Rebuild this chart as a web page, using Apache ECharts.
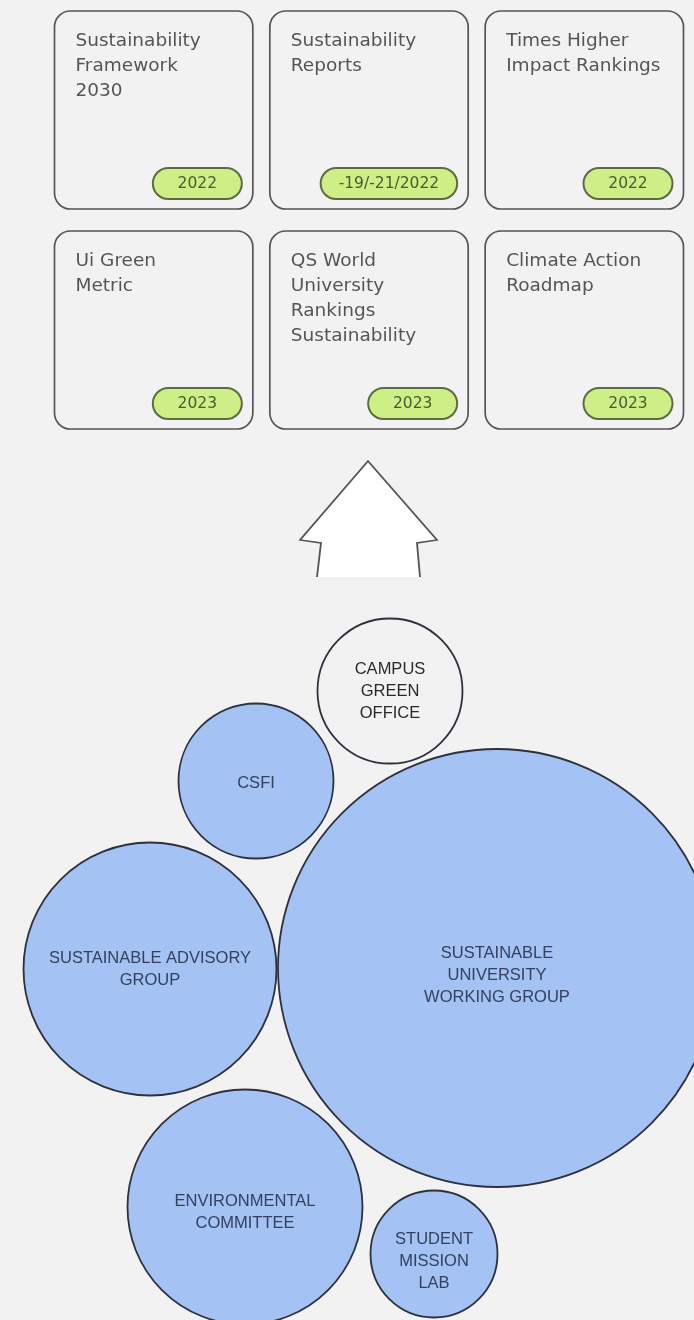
<!DOCTYPE html>
<html>
<head>
<meta charset="utf-8">
<title>Sustainability governance</title>
<script src="https://cdn.jsdelivr.net/npm/echarts@6.0.0/dist/echarts.min.js"></script>
<style>
  html, body { margin: 0; padding: 0; background: #f2f2f2; }
  #main { width: 694px; height: 1320px; }
</style>
</head>
<body>
<div id="main"></div>
<script>
// cards (top part): title, year badge, column / row of the grid
const cardTitles = [
  'Sustainability\nFramework\n2030',
  'Sustainability\nReports',
  'Times Higher\nImpact Rankings',
  'Ui Green\nMetric',
  'QS World\nUniversity\nRankings\nSustainability',
  'Climate Action\nRoadmap'
];
const cardYears = ['2022', '-19/-21/2022', '2022', '2023', '2023', '2023'];
const cardCols = [0, 1, 2, 0, 1, 2];
const cardRows = [0, 0, 0, 1, 1, 1];

// bubbles (bottom part), positions/diameters
const groupNames = [
  'CAMPUS\nGREEN\nOFFICE',
  'CSFI',
  'SUSTAINABLE ADVISORY\nGROUP',
  'SUSTAINABLE\nUNIVERSITY\nWORKING GROUP',
  'ENVIRONMENTAL\nCOMMITTEE',
  'STUDENT\nMISSION\nLAB'
];
const groupX = [390, 256, 150, 497, 245, 434];
const groupY = [691, 781, 969, 968, 1207, 1254];
const groupSize = [145, 155, 253, 438, 235, 127];

// the arrow between both parts
const arrowX = [368.5];
const arrowY = [519];

// small vertical nudges of the bubble labels (style only)
const labelShift = [0, 2, 0, 7, 5, 7];

const titleFont = '18.5px "DejaVu Sans", sans-serif';
const pillFont = '15.5px "DejaVu Sans", sans-serif';

const ctx = document.createElement('canvas').getContext('2d');
function textWidth(txt, font) {
  ctx.font = font;
  return ctx.measureText(txt).width;
}

function renderCard(params, api) {
  const i = params.dataIndex;
  const c = api.coord([api.value(0), api.value(1)]);
  const band = api.size([1, 1]);
  const w = band[0] - 17;
  const h = band[1] - 22;
  const x0 = c[0] - w / 2;
  const y0 = c[1] - h / 2;
  const year = cardYears[i];
  const pw = Math.max(89, textWidth(year, pillFont) + 36);
  const ph = 31;
  const px = x0 + w - 11 - pw;
  const py = y0 + h - 10 - ph;
  return {
    type: 'group',
    children: [
      {
        type: 'rect',
        shape: { x: x0, y: y0, width: w, height: h, r: 16 },
        style: { fill: '#f2f2f2', stroke: '#555', lineWidth: 1.7 }
      },
      {
        type: 'text',
        x: x0 + 21,
        y: y0 + 18,
        style: {
          text: cardTitles[i], fill: '#555', font: titleFont,
          lineHeight: 25, align: 'left', verticalAlign: 'top'
        }
      },
      {
        type: 'rect',
        shape: { x: px, y: py, width: pw, height: ph, r: ph / 2 },
        style: { fill: '#cdef86', stroke: '#5c6b44', lineWidth: 2 }
      },
      {
        type: 'text',
        x: px + pw / 2,
        y: py + ph / 2,
        style: {
          text: year, fill: '#4b5a33', font: pillFont,
          align: 'center', verticalAlign: 'middle'
        }
      }
    ]
  };
}

const chart = echarts.init(document.getElementById('main'));

const option = {
  backgroundColor: '#f2f2f2',
  animation: false,
  grid: [
    { left: 46, top: 0, width: 646, height: 440 },
    { left: 0, top: 0, right: 0, bottom: 0 }
  ],
  xAxis: [
    { type: 'category', gridIndex: 0, data: ['c1', 'c2', 'c3'], show: false },
    { type: 'value', gridIndex: 1, min: 0, max: 694, show: false }
  ],
  yAxis: [
    { type: 'category', gridIndex: 0, data: ['r1', 'r2'], inverse: true, show: false },
    { type: 'value', gridIndex: 1, min: 0, max: 1320, inverse: true, show: false }
  ],
  series: [
    {
      type: 'custom',
      xAxisIndex: 0,
      yAxisIndex: 0,
      renderItem: renderCard,
      data: cardCols.map((c, i) => [c, cardRows[i]]),
      silent: true
    },
    {
      type: 'scatter',
      xAxisIndex: 1,
      yAxisIndex: 1,
      silent: true,
      symbol: 'path://M17 116 L21 82 L0 79 L68 0 L137 79 L117 82 L120 116',
      symbolSize: [137, 116],
      itemStyle: { color: '#ffffff', borderColor: '#555', borderWidth: 1.7, opacity: 1 },
      data: arrowX.map((x, i) => [x, arrowY[i]])
    },
    {
      type: 'scatter',
      xAxisIndex: 1,
      yAxisIndex: 1,
      silent: true,
      data: groupX.map((x, i) => ({
        value: [x, groupY[i]],
        symbolSize: groupSize[i],
        itemStyle: i === 0 ? { color: '#f2f2f2' } : undefined,
        label: i === 0
          ? { color: '#2a2a2a', offset: [0, labelShift[i]] }
          : { offset: [0, labelShift[i]] }
      })),
      itemStyle: {
        color: '#a4c2f4',
        borderColor: '#2c313d',
        borderWidth: 1.8,
        opacity: 1
      },
      label: {
        show: true,
        position: 'inside',
        formatter: (p) => groupNames[p.dataIndex],
        color: '#34405e',
        fontFamily: '"Liberation Sans", Arial, sans-serif',
        fontSize: 16.5,
        lineHeight: 22,
        align: 'center'
      }
    }
  ]
};

chart.setOption(option);
</script>
</body>
</html>
